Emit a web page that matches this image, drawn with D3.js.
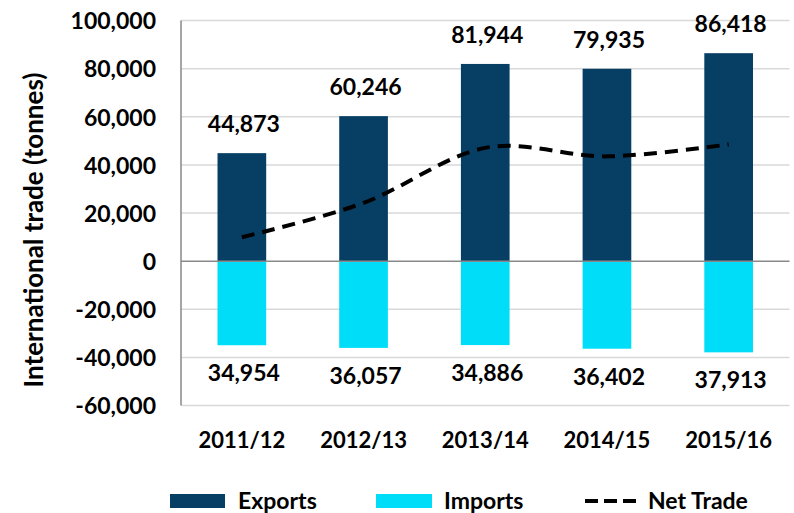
<!DOCTYPE html>
<html>
<head>
<meta charset="utf-8">
<script src="https://cdn.jsdelivr.net/npm/d3@7"></script>
<style>
  body { margin: 0; background: #fff; }
  svg text { font-family: Lato, "Open Sans", sans-serif; font-weight: bold; fill: #000; }
</style>
</head>
<body>
<svg id="chart" width="794" height="513"></svg>
<script>
// data
const years = ["2011/12", "2012/13", "2013/14", "2014/15", "2015/16"];
const exports = [44873, 60246, 81944, 79935, 86418];
const imports = [34954, 36057, 34886, 36402, 37913];
const netTrade = [9919, 24189, 47058, 43533, 48505];
const yTicks = [100000, 80000, 60000, 40000, 20000, 0, -20000, -40000, -60000];
const yTickLabels = ["100,000", "80,000", "60,000", "40,000", "20,000", "0", "-20,000", "-40,000", "-60,000"];

const exportColor = "#073e64";
const importColor = "#00ddf8";
const fmt = d3.format(",");

const svg = d3.select("#chart");
const left = 181, right = 789.5;

const x = d3.scaleBand().domain(years).range([left, right]).padding(0);
const y = d3.scaleLinear().domain([-60000, 100000]).range([405.5, 20.5]);
const barW = x.bandwidth() * 0.4;

// gridlines
svg.append("g").selectAll("line")
  .data(yTicks.filter(d => d !== 0))
  .enter().append("line")
  .attr("x1", left).attr("x2", right)
  .attr("y1", d => y(d)).attr("y2", d => y(d))
  .attr("stroke", "#d9d9d9").attr("stroke-width", 1.5);

// y axis labels
const yAxis = svg.append("g")
  .attr("transform", `translate(${left},0)`)
  .call(d3.axisLeft(y).tickValues(yTicks).tickSize(0).tickPadding(25)
    .tickFormat(d => yTickLabels[yTicks.indexOf(d)]));
yAxis.select(".domain").remove();
yAxis.selectAll("text").style("font-size", "23px").attr("dy", "0.36em");

// bars
const idx = d3.range(years.length);
svg.append("g").selectAll("rect")
  .data(idx).enter().append("rect")
  .attr("x", i => x(years[i]) + (x.bandwidth() - barW) / 2)
  .attr("y", i => y(exports[i]))
  .attr("width", barW)
  .attr("height", i => y(0) - y(exports[i]))
  .attr("fill", exportColor);

svg.append("g").selectAll("rect")
  .data(idx).enter().append("rect")
  .attr("x", i => x(years[i]) + (x.bandwidth() - barW) / 2)
  .attr("y", y(0))
  .attr("width", barW)
  .attr("height", i => y(-imports[i]) - y(0))
  .attr("fill", importColor);

// zero line and y axis line
svg.append("line")
  .attr("x1", left).attr("x2", right)
  .attr("y1", y(0)).attr("y2", y(0))
  .attr("stroke", "#898989").attr("stroke-width", 1.5);
svg.append("line")
  .attr("x1", left).attr("x2", left)
  .attr("y1", y(100000)).attr("y2", y(-60000))
  .attr("stroke", "#898989").attr("stroke-width", 1.5);

// net trade line
const line = d3.line()
  .x((d, i) => x(years[i]) + x.bandwidth() / 2)
  .y(d => y(d))
  .curve(d3.curveCardinal.tension(0));
svg.append("path")
  .datum(netTrade)
  .attr("d", line)
  .attr("fill", "none")
  .attr("stroke", "#000")
  .attr("stroke-width", 4)
  .attr("stroke-dasharray", "13,8");

// value labels
svg.append("g").selectAll("text")
  .data(idx).enter().append("text")
  .attr("x", i => x(years[i]) + x.bandwidth() / 2 + 2)
  .attr("y", i => y(exports[i]) - 21)
  .attr("text-anchor", "middle")
  .style("font-size", "23px")
  .text(i => fmt(exports[i]));

svg.append("g").selectAll("text")
  .data(idx).enter().append("text")
  .attr("x", i => x(years[i]) + x.bandwidth() / 2 + 2)
  .attr("y", i => y(-imports[i]) + 36)
  .attr("text-anchor", "middle")
  .style("font-size", "23px")
  .text(i => fmt(imports[i]));

// x labels
svg.append("g").selectAll("text")
  .data(years).enter().append("text")
  .attr("x", d => x(d) + x.bandwidth() / 2)
  .attr("y", 448)
  .attr("text-anchor", "middle")
  .style("font-size", "22px")
  .text(d => d);

// y axis title
svg.append("text")
  .attr("transform", "translate(34,230) rotate(-90)")
  .attr("text-anchor", "middle")
  .attr("dy", "0.35em")
  .style("font-size", "26px")
  .text("International trade (tonnes)");

// legend
const legend = svg.append("g");
legend.append("rect").attr("x", 170).attr("y", 494).attr("width", 55).attr("height", 14).attr("fill", exportColor);
legend.append("text").attr("x", 238).attr("y", 509).style("font-size", "23px").text("Exports");
legend.append("rect").attr("x", 376).attr("y", 494).attr("width", 56).attr("height", 14).attr("fill", importColor);
legend.append("text").attr("x", 444).attr("y", 509).style("font-size", "23px").text("Imports");
legend.append("line").attr("x1", 585).attr("x2", 637).attr("y1", 501).attr("y2", 501)
  .attr("stroke", "#000").attr("stroke-width", 4).attr("stroke-dasharray", "13,6");
legend.append("text").attr("x", 648).attr("y", 509).style("font-size", "23px").text("Net Trade");
</script>
</body>
</html>
